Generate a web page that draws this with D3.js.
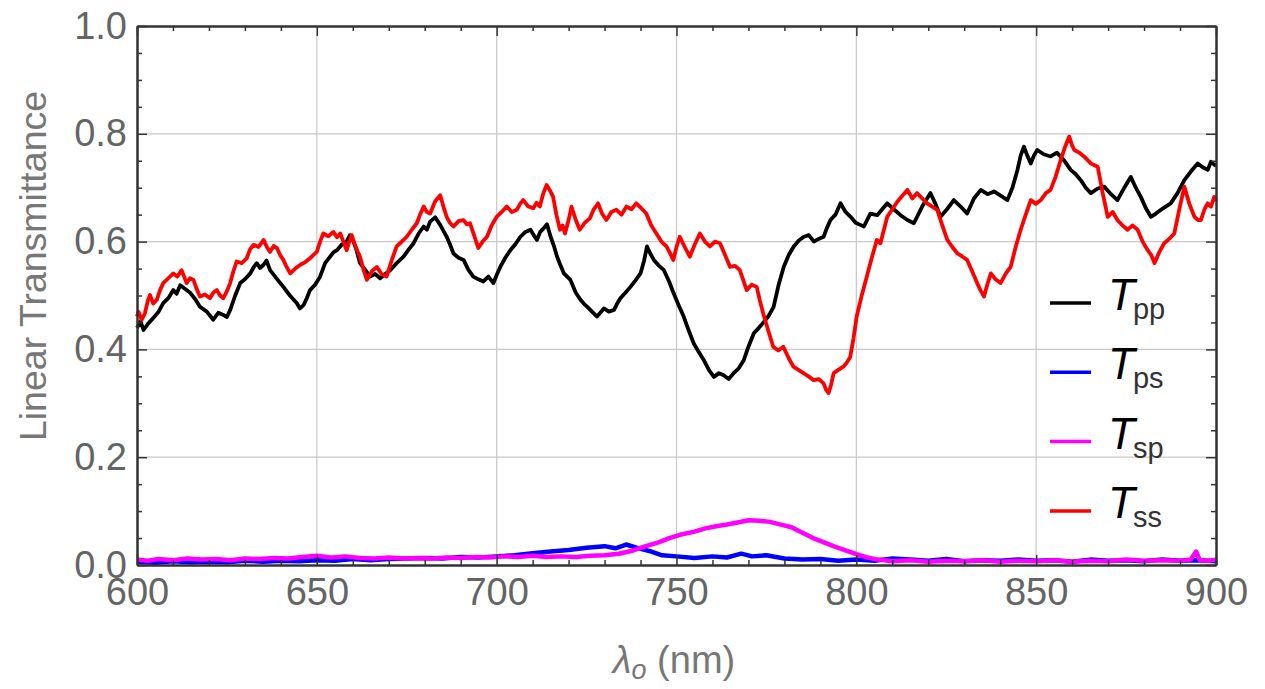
<!DOCTYPE html>
<html>
<head>
<meta charset="utf-8">
<script src="https://cdn.jsdelivr.net/npm/d3@7"></script>
<style>
  body { margin: 0; background: #fff; }
  svg { display: block; }
</style>
</head>
<body>
<div id="chart"></div>
<script>
// wavelength (nm), linear transmittance
var tpp = [[600,0.440],[601,0.452],[601.8,0.436],[603,0.447],[604.5,0.458],[606,0.470],[607.3,0.486],[608.7,0.495],[610.1,0.510],[611,0.503],
  [612,0.519],[613.4,0.512],[614.8,0.505],[616.2,0.493],[617.5,0.479],[619.4,0.470],[621.2,0.455],[622.6,0.468],[624,0.464],[625,0.460],
  [625.9,0.473],[627.3,0.500],[628.7,0.523],[630,0.530],[631.5,0.541],[632.4,0.552],[633.3,0.560],[634.2,0.551],[635.2,0.557],[636,0.565],
  [637,0.547],[639,0.530],[640.7,0.516],[642.5,0.500],[644.4,0.486],[645.3,0.476],[646.3,0.482],[647.2,0.495],[648.1,0.510],[649.5,0.520],
  [650.9,0.535],[652.3,0.560],[653.7,0.572],[654.6,0.580],[655.6,0.584],[657,0.595],[658.3,0.600],[659.2,0.612],[660.2,0.600],[661,0.585],
  [662,0.560],[663.4,0.548],[664.8,0.535],[666.2,0.540],[667.6,0.532],[669,0.540],[670.4,0.547],[672.2,0.560],[674.1,0.572],[675.5,0.585],
  [676.9,0.597],[678.3,0.615],[679.7,0.628],[680.6,0.622],[681.5,0.637],[682.9,0.645],[684.3,0.631],[685.2,0.620],[686.1,0.609],[687,0.595],
  [688,0.578],[689.4,0.570],[690.8,0.566],[692.1,0.548],[693.5,0.535],[694.9,0.530],[696.3,0.526],[697.7,0.535],[699.1,0.523],[700,0.538],
  [701,0.553],[702.4,0.570],[703.8,0.584],[705.2,0.595],[706.6,0.609],[708,0.618],[709.4,0.622],[710.3,0.612],[711.2,0.603],[712.1,0.618],
  [713.1,0.625],[714,0.632],[715,0.609],[716,0.590],[716.8,0.572],[717.8,0.555],[718.7,0.541],[719.6,0.535],[720.5,0.529],[722,0.505],
  [723.3,0.492],[724.2,0.485],[725.2,0.479],[726.5,0.470],[727.9,0.461],[728.8,0.468],[729.8,0.476],[731.2,0.470],[732.6,0.473],[733.5,0.485],
  [734.4,0.495],[735.8,0.505],[737.2,0.516],[738.6,0.528],[740,0.541],[741,0.565],[741.8,0.591],[742.7,0.578],[743.7,0.566],[745,0.556],
  [746.5,0.547],[748,0.525],[749.2,0.504],[750.6,0.482],[752,0.461],[753.4,0.435],[754.8,0.411],[756.2,0.395],[757.6,0.380],[759,0.362],
  [760.4,0.349],[761.8,0.356],[763.1,0.352],[764.5,0.345],[765.9,0.356],[767.3,0.365],[768.7,0.380],[770,0.405],[771.5,0.430],[772.9,0.440],
  [774.3,0.451],[775.6,0.462],[777,0.479],[778.4,0.520],[779.8,0.553],[781.2,0.575],[782.6,0.591],[784,0.602],[785.4,0.609],[786.8,0.612],
  [788.2,0.600],[789.5,0.605],[790.9,0.609],[791.8,0.625],[792.8,0.640],[794.2,0.650],[795.6,0.671],[797,0.655],[798.4,0.646],[799.8,0.635],
  [801.1,0.631],[802.1,0.628],[803.9,0.652],[805.8,0.649],[807.2,0.660],[808.6,0.671],[810.4,0.660],[812.3,0.649],[814.2,0.640],[816,0.634],
  [818.3,0.665],[820.6,0.690],[822,0.670],[823.4,0.646],[825.2,0.660],[827.1,0.677],[829,0.665],[830.8,0.652],[832.7,0.680],[834.6,0.696],
  [836.5,0.688],[838.3,0.693],[840.2,0.685],[842,0.677],[843.4,0.700],[844.8,0.733],[845.7,0.760],[846.6,0.776],[847.5,0.760],[848.5,0.745],
  [849.4,0.760],[850.3,0.770],[852.1,0.762],[854,0.758],[855.8,0.765],[857.7,0.751],[859.6,0.733],[861,0.725],[862.4,0.714],[863.8,0.700],
  [865.2,0.690],[867,0.698],[868.9,0.702],[870.8,0.688],[872.6,0.677],[874.5,0.700],[876.3,0.720],[877.7,0.700],[879.1,0.683],[880.5,0.662],
  [881.9,0.646],[883.3,0.652],[884.7,0.659],[886,0.665],[887.4,0.671],[889.3,0.690],[891.2,0.714],[893,0.730],[894.9,0.745],[896.3,0.738],
  [897.7,0.733],[898.6,0.748],[900,0.740]];

var tps = [[600,0.006],[605,0.004],[610,0.007],[615,0.005],[620,0.006],[625,0.005],[630,0.008],[635,0.006],[640,0.008],[645,0.007],
  [650,0.009],[655,0.008],[660,0.011],[665,0.009],[670,0.011],[675,0.012],[680,0.013],[685,0.012],[690,0.015],[695,0.014],
  [700,0.016],[705,0.018],[710,0.022],[715,0.025],[720,0.028],[725,0.032],[730,0.035],[733,0.031],[736,0.038],[740,0.030],
  [743,0.025],[746,0.018],[750,0.016],[755,0.013],[760,0.016],[764,0.014],[768,0.021],[771,0.016],[775,0.018],[780,0.012],
  [785,0.010],[790,0.011],[795,0.008],[800,0.010],[805,0.008],[810,0.012],[815,0.010],[820,0.008],[825,0.011],[830,0.007],
  [835,0.009],[840,0.008],[845,0.010],[850,0.008],[855,0.009],[860,0.006],[865,0.010],[870,0.008],[875,0.009],[880,0.007],
  [885,0.010],[890,0.008],[895,0.009],[900,0.007]];

var tsp = [[600,0.010],[603,0.008],[606,0.011],[610,0.009],[614,0.012],[618,0.010],[622,0.011],[626,0.009],[630,0.012],[634,0.011],
  [638,0.013],[642,0.012],[646,0.015],[650,0.017],[654,0.014],[658,0.016],[662,0.013],[666,0.012],[670,0.014],[674,0.012],
  [678,0.013],[682,0.012],[686,0.014],[690,0.013],[694,0.015],[698,0.014],[702,0.016],[706,0.015],[710,0.017],[714,0.015],
  [718,0.016],[722,0.015],[726,0.017],[730,0.018],[734,0.021],[738,0.027],[741,0.034],[745,0.042],[748,0.050],[751,0.056],
  [755,0.062],[758,0.068],[761,0.072],[764,0.075],[767,0.079],[770,0.083],[773,0.082],[776,0.080],[779,0.075],[782,0.070],
  [785,0.060],[788,0.050],[791,0.042],[794,0.034],[797,0.027],[800,0.020],[803,0.014],[806,0.010],[810,0.007],[815,0.009],
  [820,0.006],[825,0.008],[830,0.007],[835,0.009],[840,0.006],[845,0.008],[850,0.007],[855,0.009],[860,0.006],[865,0.008],
  [870,0.007],[875,0.010],[880,0.008],[885,0.009],[890,0.008],[893,0.010],[894.5,0.025],[895.5,0.009],[898,0.008],[900,0.010]];

var tss = [[600,0.461],[600.4,0.470],[601.3,0.455],[602.2,0.467],[603,0.490],[603.6,0.501],[604.5,0.485],[605.5,0.492],[606.4,0.510],[607.3,0.523],
  [608.7,0.532],[610.1,0.541],[611.2,0.535],[612.4,0.547],[613.1,0.535],[613.8,0.523],[614.7,0.532],[615.7,0.529],[616.6,0.512],[617.5,0.498],
  [618.9,0.502],[620.3,0.495],[621.2,0.505],[622.2,0.510],[623.1,0.500],[624,0.495],[625,0.508],[625.9,0.523],[626.8,0.545],[627.7,0.563],
  [629.1,0.560],[630.5,0.569],[631.4,0.585],[632.4,0.594],[633.8,0.590],[635.2,0.603],[636.1,0.590],[637,0.581],[638,0.592],[638.9,0.588],
  [639.8,0.575],[640.7,0.566],[641.6,0.553],[642.6,0.541],[644,0.550],[645.4,0.557],[646.8,0.562],[648.1,0.569],[649,0.575],[650,0.581],
  [650.9,0.600],[651.8,0.615],[653.2,0.610],[654.6,0.618],[655.6,0.608],[656.5,0.615],[657.4,0.600],[658.3,0.584],[659,0.600],[659.7,0.612],
  [660.8,0.590],[662,0.572],[662.9,0.550],[663.9,0.529],[665.3,0.545],[666.7,0.553],[668,0.540],[669.4,0.535],[670.8,0.565],[672.2,0.591],
  [673.6,0.600],[675,0.609],[676.4,0.622],[677.8,0.634],[678.7,0.650],[679.7,0.665],[680.6,0.655],[681.5,0.652],[682.9,0.675],[684.3,0.686],
  [685.2,0.665],[686.1,0.646],[687,0.635],[688,0.628],[689.4,0.638],[690.8,0.640],[691.7,0.632],[692.6,0.634],[693.8,0.610],[694.9,0.588],
  [696.1,0.600],[697.3,0.609],[698.6,0.630],[700,0.646],[701.4,0.655],[702.8,0.665],[704.2,0.655],[705.6,0.659],[706.5,0.670],[707.4,0.677],
  [708.8,0.665],[710.2,0.662],[711.1,0.672],[712,0.665],[713,0.690],[713.9,0.705],[714.8,0.695],[715.7,0.683],[716.6,0.650],[717.6,0.622],
  [718.3,0.630],[719,0.615],[720,0.640],[720.8,0.665],[722,0.640],[723.1,0.622],[724.5,0.635],[725.9,0.643],[727,0.660],[728.2,0.671],
  [729.3,0.652],[730.5,0.640],[731.9,0.655],[733.3,0.659],[734.7,0.650],[736.1,0.665],[737.5,0.660],[738.8,0.671],[740.2,0.662],[741.6,0.652],
  [743,0.630],[744.4,0.615],[745.8,0.600],[747.2,0.591],[748.1,0.580],[749.1,0.566],[750,0.590],[750.9,0.609],[752.3,0.590],[753.7,0.572],
  [755.1,0.595],[756.5,0.615],[757.9,0.600],[759.3,0.591],[760.7,0.600],[762.1,0.597],[763.5,0.575],[764.9,0.553],[766.3,0.555],[767.6,0.547],
  [768.5,0.530],[769.5,0.510],[770.9,0.520],[772.3,0.516],[773.2,0.490],[774.1,0.467],[775.5,0.435],[776.9,0.405],[778.3,0.398],[779.7,0.405],
  [781.1,0.385],[782.5,0.368],[783.9,0.362],[785.3,0.356],[786.7,0.350],[788.1,0.343],[789.5,0.345],[790.9,0.337],[791.6,0.325],[792.3,0.319],
  [793,0.335],[793.7,0.356],[795,0.362],[796.4,0.368],[797.3,0.375],[798.3,0.386],[799.2,0.420],[800.1,0.461],[801.5,0.500],[802.9,0.535],
  [804.3,0.570],[805.7,0.603],[806.7,0.597],[807.6,0.620],[808.6,0.646],[810,0.660],[811.4,0.674],[812.8,0.685],[814.2,0.696],[815.6,0.680],
  [816.9,0.690],[818.3,0.680],[819.7,0.671],[821.1,0.665],[822.5,0.659],[823.9,0.630],[825.3,0.603],[826.7,0.590],[828.1,0.578],[829.5,0.572],
  [830.8,0.566],[832.2,0.545],[833.6,0.523],[834.5,0.510],[835.5,0.498],[836.4,0.520],[837.4,0.541],[838.7,0.530],[840.1,0.523],[841.5,0.540],
  [842.9,0.553],[844.3,0.590],[845.7,0.622],[847.1,0.650],[848.5,0.677],[849.9,0.670],[851.3,0.677],[852.7,0.690],[854,0.696],[855.4,0.720],
  [856.8,0.751],[858,0.775],[859.2,0.795],[859.9,0.780],[860.6,0.770],[862,0.765],[863.3,0.758],[865.2,0.745],[867.1,0.739],[868.5,0.690],
  [869.9,0.646],[871.3,0.655],[872.6,0.640],[874,0.630],[875.4,0.622],[876.8,0.630],[878.2,0.622],[879.6,0.600],[881,0.584],[882,0.575],
  [882.9,0.560],[884.2,0.580],[885.6,0.597],[887,0.605],[888.4,0.615],[889.8,0.660],[891.2,0.702],[892.6,0.670],[894,0.646],[895,0.640],
  [895.8,0.640],[896.8,0.660],[897.7,0.671],[898.6,0.665],[899.5,0.683],[900,0.675]];

var seriesNames = ["pp", "ps", "sp", "ss"];
var seriesColors = ["#000000", "#0000ff", "#ff00ff", "#ff0000"];
var xMajor = [600, 650, 700, 750, 800, 850, 900];
var yMajor = [0, 0.2, 0.4, 0.6, 0.8, 1.0];

var W = 1265, H = 689;
var pLeft = 137, pRight = 1216, pTop = 26, pBottom = 565;

var svg = d3.select("#chart").append("svg")
    .attr("width", W)
    .attr("height", H);

var x = d3.scaleLinear().domain([600, 900]).range([pLeft, pRight]);
var y = d3.scaleLinear().domain([0, 1]).range([pBottom, pTop]);

var xMinor = d3.range(600, 901, 10).filter(function(v) { return v % 50 != 0; });
var yMinor = d3.range(0, 21).map(function(i) { return i * 0.05; }).filter(function(v, i) { return i % 4 != 0; });

// grid
svg.append("g")
    .selectAll("line")
    .data(xMajor.slice(1, -1))
    .enter().append("line")
    .attr("x1", function(d) { return x(d); })
    .attr("x2", function(d) { return x(d); })
    .attr("y1", pTop).attr("y2", pBottom)
    .attr("stroke", "#c8c8c8").attr("stroke-width", 1.2);

svg.append("g")
    .selectAll("line")
    .data(yMajor.slice(1, -1))
    .enter().append("line")
    .attr("y1", function(d) { return y(d); })
    .attr("y2", function(d) { return y(d); })
    .attr("x1", pLeft).attr("x2", pRight)
    .attr("stroke", "#c8c8c8").attr("stroke-width", 1.2);

// curves (the measured traces are noisy, so draw them a bit heavy)
var line = d3.line()
    .x(function(d) { return x(d[0]); })
    .y(function(d) { return y(d[1]); });

var widths = [3.8, 4.5, 4.5, 3.8];
[tpp, tps, tsp, tss].forEach(function(s, i) {
    svg.append("path")
        .datum(s)
        .attr("d", line)
        .attr("fill", "none")
        .attr("stroke", seriesColors[i])
        .attr("stroke-width", widths[i])
        .attr("stroke-linejoin", "round");
});

// axes, ticks pointing inward
var tickColor = "#333";
function styleAxis(g) {
    g.select(".domain").attr("stroke", tickColor).attr("stroke-width", 2);
    g.selectAll(".tick line").attr("stroke", tickColor).attr("stroke-width", 1.5);
    g.selectAll(".tick text")
        .attr("fill", "#646464")
        .style("font-family", "'Liberation Sans', Arial, sans-serif")
        .style("font-size", "38px");
}

svg.append("g").attr("transform", "translate(0," + pBottom + ")")
    .call(d3.axisBottom(x).tickValues(xMajor).tickSize(-10).tickSizeOuter(0).tickPadding(13).tickFormat(d3.format("d")))
    .call(styleAxis);
svg.append("g").attr("transform", "translate(0," + pBottom + ")")
    .call(d3.axisBottom(x).tickValues(xMinor).tickSize(-5).tickSizeOuter(0).tickFormat(""))
    .call(styleAxis);
svg.append("g").attr("transform", "translate(0," + pTop + ")")
    .call(d3.axisTop(x).tickValues(xMajor).tickSize(-10).tickSizeOuter(0).tickFormat(""))
    .call(styleAxis);
svg.append("g").attr("transform", "translate(0," + pTop + ")")
    .call(d3.axisTop(x).tickValues(xMinor).tickSize(-5).tickSizeOuter(0).tickFormat(""))
    .call(styleAxis);

svg.append("g").attr("transform", "translate(" + pLeft + ",0)")
    .call(d3.axisLeft(y).tickValues(yMajor).tickSize(-10).tickSizeOuter(0).tickPadding(10).tickFormat(d3.format(".1f")))
    .call(styleAxis);
svg.append("g").attr("transform", "translate(" + pLeft + ",0)")
    .call(d3.axisLeft(y).tickValues(yMinor).tickSize(-5).tickSizeOuter(0).tickFormat(""))
    .call(styleAxis);
svg.append("g").attr("transform", "translate(" + pRight + ",0)")
    .call(d3.axisRight(y).tickValues(yMajor).tickSize(-10).tickSizeOuter(0).tickFormat(""))
    .call(styleAxis);
svg.append("g").attr("transform", "translate(" + pRight + ",0)")
    .call(d3.axisRight(y).tickValues(yMinor).tickSize(-5).tickSizeOuter(0).tickFormat(""))
    .call(styleAxis);

// axis titles
svg.append("text")
    .attr("transform", "translate(46,266) rotate(-90)")
    .attr("text-anchor", "middle")
    .attr("fill", "#777")
    .style("font-family", "'Liberation Sans', Arial, sans-serif")
    .style("font-size", "37.5px")
    .text("Linear Transmittance");

var xt = svg.append("text")
    .attr("x", 674)
    .attr("y", 673)
    .attr("text-anchor", "middle")
    .attr("fill", "#777")
    .style("font-family", "'Liberation Sans', Arial, sans-serif")
    .style("font-size", "38px");
xt.append("tspan").style("font-style", "italic").text("λ");
xt.append("tspan").style("font-style", "italic").style("font-size", "27px").attr("dy", 6).text("o");
xt.append("tspan").attr("dy", -6).text(" (nm)");

// legend
var legend = svg.append("g");
seriesNames.forEach(function(name, i) {
    var ly = 303 + i * 69.3;
    legend.append("line")
        .attr("x1", 1050).attr("x2", 1091)
        .attr("y1", ly).attr("y2", ly)
        .attr("stroke", seriesColors[i])
        .attr("stroke-width", 3.5);
    var t = legend.append("text")
        .attr("x", 1108)
        .attr("y", ly + 7)
        .attr("fill", "#000")
        .style("font-family", "'Liberation Sans', Arial, sans-serif");
    t.append("tspan").style("font-style", "italic").style("font-size", "44px").text("T");
    t.append("tspan").attr("dy", 9).attr("dx", -2).style("font-size", "29px").attr("fill", "#333").text(name);
});
</script>
</body>
</html>
